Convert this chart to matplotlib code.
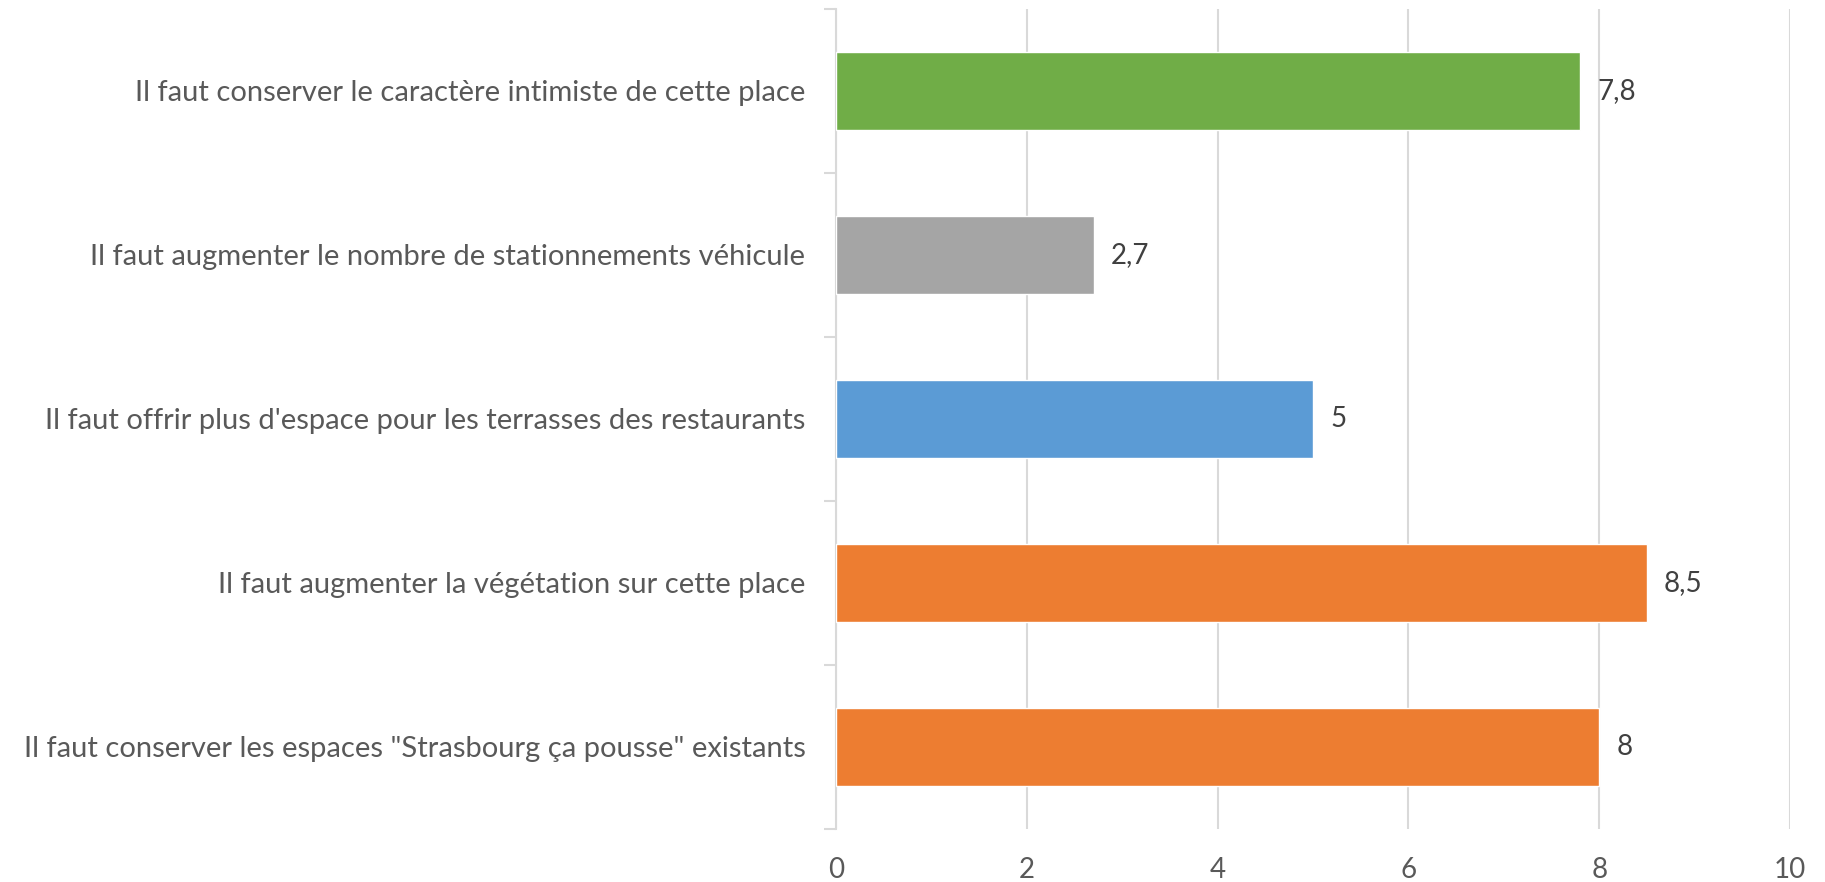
import matplotlib
matplotlib.use("Agg")
import matplotlib.pyplot as plt

categories = [
    "Il faut conserver le caractère intimiste de cette place",
    "Il faut augmenter le nombre de stationnements véhicule",
    "Il faut offrir plus d'espace pour les terrasses des restaurants",
    "Il faut augmenter la végétation sur cette place",
    'Il faut conserver les espaces "Strasbourg ça pousse" existants',
]
values = [7.8, 2.7, 5, 8.5, 8]
value_labels = ["7,8", "2,7", "5", "8,5", "8"]
colors = ["#70AD47", "#A5A5A5", "#5B9BD5", "#ED7D31", "#ED7D31"]
xticks = [0, 2, 4, 6, 8, 10]

plt.rcParams['font.family'] = ['Lato', 'DejaVu Sans']
text_color = "#595959"
grid_color = "#D9D9D9"

fig = plt.figure(figsize=(18.25, 8.82), dpi=100)
ax = fig.add_axes([836/1825, 1 - 829/882, (1790-836)/1825, (829-9)/882])

n = len(categories)
ypos = list(range(n))[::-1]
ax.barh(ypos, values, height=0.47, color=colors, edgecolor="white", linewidth=1, zorder=3)
for y, v, lab in zip(ypos, values, value_labels):
    ax.text(v + 0.18, y, lab, va="center", ha="left", fontsize=20, color="#404040")

ax.set_xlim(0, 10)
ax.set_ylim(-0.5, n - 0.5)
ax.set_xticks(xticks)
ax.set_xticklabels([str(t) for t in xticks], fontsize=20, color=text_color)
ax.tick_params(axis='x', length=0, pad=20)
ax.set_yticks([i - 0.5 for i in range(n + 1)], minor=False)
ax.set_yticklabels([])
ax.set_yticks(ypos, minor=True)
ax.set_yticklabels(categories, minor=True, fontsize=21, color=text_color)
ax.tick_params(axis='y', which='major', length=9, color=grid_color, width=1.5, direction='out')
ax.tick_params(axis='y', which='minor', length=0, pad=22)
ax.xaxis.grid(True, color=grid_color, linewidth=1.5, zorder=0)
ax.set_axisbelow(True)
for s in ["top", "right", "bottom"]:
    ax.spines[s].set_visible(False)
ax.spines["left"].set_color(grid_color)
ax.spines["left"].set_linewidth(1.5)

fig.savefig("out.png", dpi=100, facecolor="white")
